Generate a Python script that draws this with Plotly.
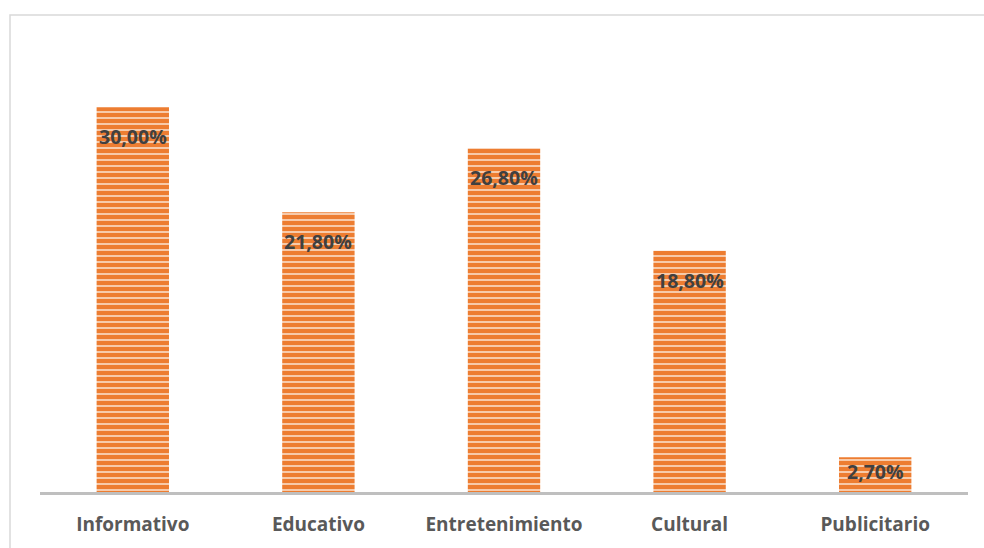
import plotly.graph_objects as go

categories = ["Informativo", "Educativo", "Entretenimiento", "Cultural", "Publicitario"]
values = [30.0, 21.8, 26.8, 18.8, 2.7]
labels = ["30,00%", "21,80%", "26,80%", "18,80%", "2,70%"]

ORANGE = "#ED7D31"
LIGHT = "#F9D3B8"
FONT = "Open Sans"

fig = go.Figure()
fig.add_trace(go.Bar(
    x=categories, y=values,
    width=0.39,
    marker=dict(color=ORANGE, line=dict(width=0),
                pattern=dict(shape="-", fgcolor=LIGHT, bgcolor=ORANGE,
                             size=6, solidity=0.3, fillmode="replace")),
    hoverinfo="skip",
))

for c, v, t in zip(categories, values, labels):
    fig.add_annotation(x=c, y=v, text=f"<b>{t}</b>", showarrow=False,
                       yanchor="top", yshift=-14 if v > 5 else 1,
                       font=dict(family=FONT, size=19.5, color="#404040"))

W, H = 984, 548
L, T = 40, 43
R = W - L - 928
B = H - 492
pw, ph = W - L - R, H - T - B
fig.add_shape(type="rect", xref="paper", yref="paper",
              x0=(10 - L) / pw, x1=(W + 20 - L) / pw,
              y0=-(B + 20) / ph, y1=(492 - 15) / ph,
              line=dict(color="#D9D9D9", width=1.5), fillcolor="rgba(0,0,0,0)",
              layer="below")

fig.update_layout(
    width=W, height=H,
    margin=dict(l=L, r=R, t=T, b=B),
    plot_bgcolor="white", paper_bgcolor="white",
    showlegend=False,
    font=dict(family=FONT),
    xaxis=dict(showline=True, linecolor="#BFBFBF", linewidth=2.5,
               showgrid=False, zeroline=False,
               tickfont=dict(family=FONT, size=19, color="#595959", weight="bold"),
               ticks="", ticklabelstandoff=13),
    yaxis=dict(range=[0, 35], visible=False, showgrid=False, zeroline=False),
)

fig.write_html("out.html", config={"displayModeBar": False},
               post_script="document.body.style.margin='0';document.body.style.overflow='hidden';")
